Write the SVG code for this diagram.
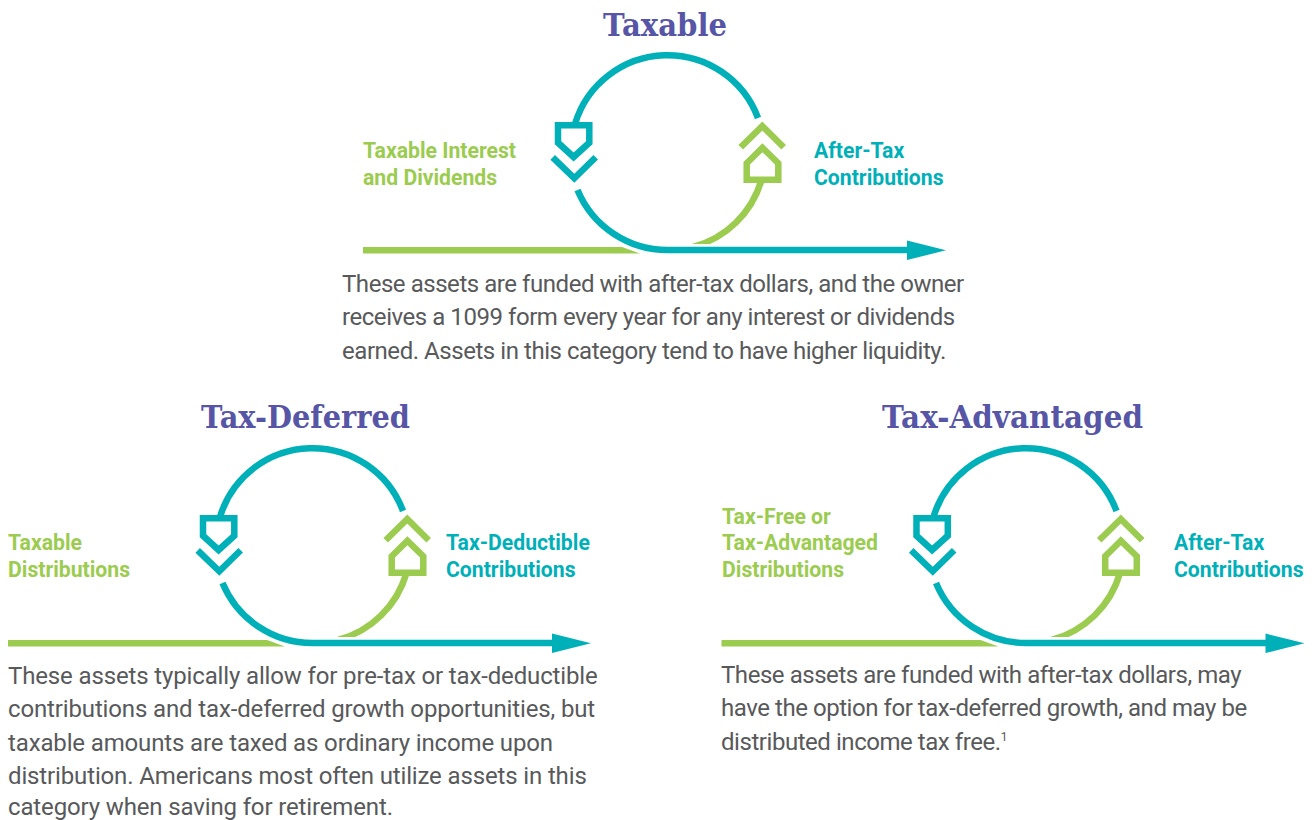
<svg xmlns="http://www.w3.org/2000/svg" xmlns:xlink="http://www.w3.org/1999/xlink" width="1312" height="820" viewBox="0 0 1312 820">
<style>
.t{font:bold 31px "DejaVu Serif",serif;fill:#5655a6;text-anchor:middle}
.b{font:400 24px Roboto,sans-serif;fill:#58595b;letter-spacing:-.45px}
#tax-deferred .b{letter-spacing:-.14px}
.g{font:700 21.200px Roboto,sans-serif;fill:#9bcc50}
.c{font:700 21.200px Roboto,sans-serif;fill:#00b0b9}
.ts{fill:none;stroke:#00b0b9;stroke-width:6.500}
.gs{fill:none;stroke:#9bcc50;stroke-width:6.500}
</style>
<defs>
<g id="cycle">
<path class="gs" d="M761.500 180A97.500 97.500 0 0 1 693 247"/>
<polygon fill="#fff" points="680,244 730,244 730,248 680,248"/>
<polygon fill="#9bcc50" points="363,247 622,247 640,253.500 363,253.500"/>
<path class="ts" d="M575 124A96.600 96.600 0 0 1 758 118"/>
<path class="ts" d="M577.500 190A97.500 97.500 0 0 0 668 250H910"/>
<polygon fill="#00b0b9" points="907,240.500 946,250.300 907,260"/>
<path class="ts" d="M558 125.300H589.300V142.700L573.600 157L558 142.700Z"/>
<path class="ts" d="M552.700 157.300L574.300 178.300L595.700 157.300"/>
<path class="gs" d="M746.700 179.700H778.300V163.300L762.400 147.700L746.700 163.300Z"/>
<path class="gs" d="M740.700 147.300L762.300 126L783.700 147.300"/>
</g>
</defs>
<g id="connectors">
<use id="cycle-taxable" href="#cycle" xlink:href="#cycle"/>
<use id="cycle-deferred" href="#cycle" xlink:href="#cycle" x="-355" y="393"/>
<use id="cycle-advantaged" href="#cycle" xlink:href="#cycle" x="358.500" y="393"/>
</g>
<g id="taxable">
<text class="t" x="665" y="35.500" textLength="124" lengthAdjust="spacingAndGlyphs">Taxable</text>
<text class="g" x="363" y="157.500">Taxable Interest</text>
<text class="g" x="363" y="184.500">and Dividends</text>
<text class="c" x="814" y="157.500">After-Tax</text>
<text class="c" x="814" y="184.500">Contributions</text>
<text class="b" x="342" y="292">These assets are funded with after-tax dollars, and the owner</text>
<text class="b" x="342" y="325">receives a 1099 form every year for any interest or dividends</text>
<text class="b" x="342" y="359">earned. Assets in this category tend to have higher liquidity.</text>
</g>
<g id="tax-deferred">
<text class="t" x="305.500" y="427.500" textLength="209" lengthAdjust="spacingAndGlyphs">Tax-Deferred</text>
<text class="g" x="8" y="549.500">Taxable</text>
<text class="g" x="8" y="576.500">Distributions</text>
<text class="c" x="446" y="549.500">Tax-Deductible</text>
<text class="c" x="446" y="576.500">Contributions</text>
<text class="b" x="8" y="684">These assets typically allow for pre-tax or tax-deductible</text>
<text class="b" x="8" y="717">contributions and tax-deferred growth opportunities, but</text>
<text class="b" x="8" y="751">taxable amounts are taxed as ordinary income upon</text>
<text class="b" x="8" y="784">distribution. Americans most often utilize assets in this</text>
<text class="b" x="8" y="815">category when saving for retirement.</text>
</g>
<g id="tax-advantaged">
<text class="t" x="1012.500" y="427.500" textLength="261" lengthAdjust="spacingAndGlyphs">Tax-Advantaged</text>
<text class="g" x="722" y="523.500">Tax-Free or</text>
<text class="g" x="722" y="549.500">Tax-Advantaged</text>
<text class="g" x="722" y="576.500">Distributions</text>
<text class="c" x="1174" y="549.500">After-Tax</text>
<text class="c" x="1174" y="576.500">Contributions</text>
<text class="b" x="721" y="683">These assets are funded with after-tax dollars, may</text>
<text class="b" x="721" y="716">have the option for tax-deferred growth, and may be</text>
<text class="b" x="721" y="750">distributed income tax free.<tspan font-size="12" dy="-9">1</tspan></text>
</g>
</svg>
